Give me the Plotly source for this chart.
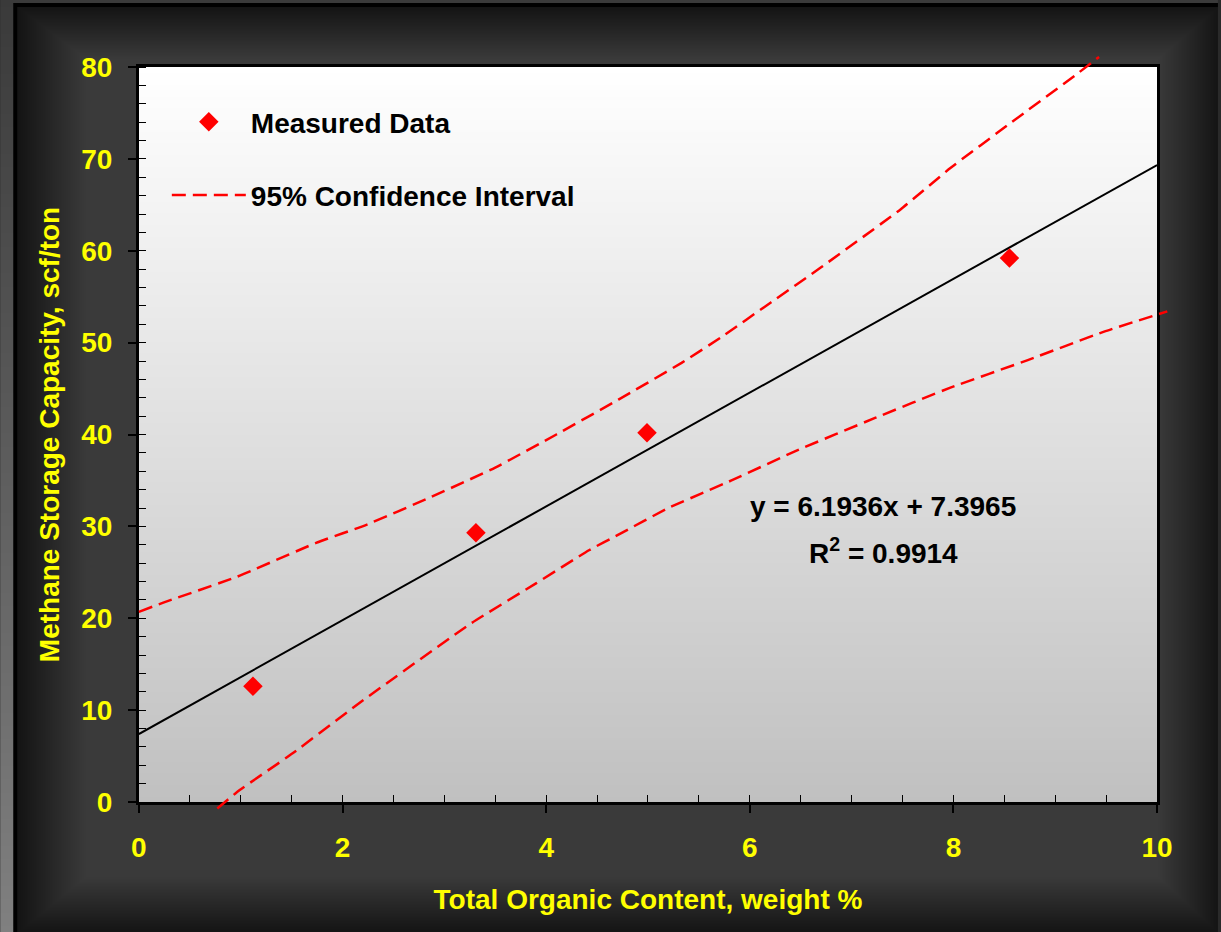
import base64, struct, zlib
import numpy as np
import plotly.graph_objects as go

# ---------------- data ----------------
toc = [1.12, 3.31, 4.99, 8.55]
capacity = [12.6, 29.3, 40.2, 59.2]

fit_x = [0, 10]
fit_y = [7.40, 69.33]

upper_x = [0.0, 0.24, 0.96, 1.74, 2.24, 2.85, 3.5, 4.1, 4.71, 5.33, 5.72, 6.21, 6.70, 7.48, 7.97, 8.56, 9.22, 9.43]
upper_y = [20.7, 21.7, 24.5, 28.2, 30.2, 33.1, 36.4, 40.0, 43.8, 47.8, 50.6, 54.4, 58.2, 64.5, 69.0, 73.9, 79.3, 81.1]

lower_x = [0.77, 0.99, 1.51, 2.23, 3.27, 3.9, 4.42, 4.71, 5.2, 5.82, 6.47, 7.23, 7.97, 8.73, 9.48, 10.1]
lower_y = [-0.7, 1.3, 5.3, 11.3, 19.5, 23.8, 27.4, 29.1, 32.0, 35.0, 38.3, 41.8, 45.1, 48.1, 51.2, 53.4]

x_range = [0, 10]
y_range = [0, 80]

equation_text = "y = 6.1936x + 7.3965"
r2_text = "R<sup>2</sup> = 0.9914"

x_title = "Total Organic Content, weight %"
y_title = "Methane Storage Capacity, scf/ton"

# ---------------- geometry ----------------
W, H = 1221, 932
L, R, T, B = 139, 1160, 67, 802          # main plot area in pixels
ML, MR, MT, MB = 100, 25, 30, 100        # outer margins (bigger area for unclipped CI lines)
AX0, AX1 = ML, W - MR
AY0, AY1 = MT, H - MB
AW, AH = AX1 - AX0, AY1 - AY0

pxx = (R - L) / (x_range[1] - x_range[0])
pxy = (B - T) / (y_range[1] - y_range[0])
x2_range = [x_range[0] + (AX0 - L) / pxx, x_range[0] + (AX1 - L) / pxx]
y2_range = [y_range[0] + (B - AY1) / pxy, y_range[0] + (B - AY0) / pxy]
x_dom = [(L - AX0) / AW, (R - AX0) / AW]
y_dom = [(AY1 - B) / AH, (AY1 - T) / AH]

# ---------------- background image (frame + plot gradient) ----------------
xs = np.arange(W)[None, :].astype(float)
ys = np.arange(H)[:, None].astype(float)

tL = np.clip((xs - 17) / (L - 17), 0, 1)
tR = np.clip((W - xs) / (W - R), 0, 1)
tT = np.clip((ys - 7) / (T - 7), 0, 1)
tB = np.clip((H - ys) / (H - B), 0, 1)
base = 20.0
fL = base + tL * (88 - base)
fR = base + tR * (58 - base)
fT = base + tT * (64 - base)
fB = base + tB * (108 - base)
img = np.minimum(np.minimum(fL, fR), np.minimum(fT, fB))
img = np.broadcast_to(img, (H, W)).copy()

left_strip = 58 + (ys[:, 0] / H) * (128 - 58)
img[:, :13] = left_strip[:, None]
img[:3, :] = 58
img[3:, 13:17] = 0
img[3:7, 13:] = 0

grad = 255 - (np.arange(T, B) - T) / (B - T) * (255 - 192)
img[T:B, L:R] = grad[:, None]


def png_gray(arr):
    h, w = arr.shape
    a = np.clip(np.round(arr), 0, 255).astype(np.int16)
    diff = a.copy()
    diff[:, 1:] = (a[:, 1:] - a[:, :-1]) % 256
    raw = np.hstack([np.ones((h, 1), np.uint8), diff.astype(np.uint8)]).tobytes()

    def chunk(t, d):
        return struct.pack('>I', len(d)) + t + d + struct.pack('>I', zlib.crc32(t + d) & 0xffffffff)

    ihdr = struct.pack('>IIBBBBB', w, h, 8, 0, 0, 0, 0)
    data = b'\x89PNG\r\n\x1a\n' + chunk(b'IHDR', ihdr) + chunk(b'IDAT', zlib.compress(raw, 9)) + chunk(b'IEND', b'')
    return 'data:image/png;base64,' + base64.b64encode(data).decode()


bg_src = png_gray(img)

# ---------------- figure ----------------
FONT = "Liberation Sans, Arial, sans-serif"
YELLOW = "#ffff00"
fs = 28

fig = go.Figure()

fig.add_trace(go.Scatter(
    x=fit_x, y=fit_y, mode="lines", line=dict(color="black", width=2),
    showlegend=False, hoverinfo="skip"))

fig.add_trace(go.Scatter(
    x=toc, y=capacity, mode="markers", name="Measured Data",
    marker=dict(symbol="diamond", size=15, color="#ff0000", line=dict(width=0)),
    legendgroup="data", legendrank=1))

ci_line = dict(color="#ff0000", width=2.5, dash="14px,7px", shape="spline", smoothing=0.4)
fig.add_trace(go.Scatter(
    x=upper_x, y=upper_y, mode="lines", name="95% Confidence Interval",
    line=ci_line, legendgroup="ci", legendrank=2, xaxis="x2", yaxis="y2"))
fig.add_trace(go.Scatter(
    x=lower_x, y=lower_y, mode="lines", name="95% Confidence Interval",
    line=ci_line, legendgroup="ci", showlegend=False, xaxis="x2", yaxis="y2"))

fig.add_annotation(x=7.31, y=32.2, xref="x", yref="y", text=equation_text, showarrow=False,
                   font=dict(family=FONT, size=fs, color="black", weight="bold"))
fig.add_annotation(x=7.31, y=27.3, xref="x", yref="y", text=r2_text, showarrow=False,
                   font=dict(family=FONT, size=fs, color="black", weight="bold"))

fig.add_layout_image(dict(
    source=bg_src, xref="paper", yref="paper",
    x=-AX0 / AW, y=1 + AY0 / AH,
    sizex=W / AW, sizey=H / AH,
    xanchor="left", yanchor="top", sizing="stretch", layer="below"))

tickfont = dict(family=FONT, size=fs, color=YELLOW, weight="bold")
titlefont = dict(family=FONT, size=fs, color=YELLOW, weight="bold")

fig.update_layout(
    width=W, height=H,
    margin=dict(l=ML, r=MR, t=MT, b=MB, pad=0),
    paper_bgcolor="#2a2a2a",
    plot_bgcolor="rgba(0,0,0,0)",
    font=dict(family=FONT, size=fs, color="black"),
    showlegend=True,
    legend=dict(
        x=(167 - AX0) / AW, y=(AY1 - 97) / AH, xanchor="left", yanchor="top",
        bgcolor="rgba(0,0,0,0)", borderwidth=0,
        font=dict(family=FONT, size=fs, color="black", weight="bold"),
        itemwidth=74, tracegroupgap=34, traceorder="grouped"),
    xaxis=dict(
        domain=x_dom, anchor="y",
        range=x_range, autorange=False, dtick=2, tick0=0,
        showgrid=False, zeroline=False,
        showline=True, linecolor="black", linewidth=3, mirror=True,
        ticks="outside", ticklen=8, tickwidth=2, tickcolor="black",
        minor=dict(dtick=0.5, ticks="inside", ticklen=7, tickwidth=1, tickcolor="black", showgrid=False),
        tickfont=tickfont, ticklabelstandoff=10,
        title=dict(text=x_title, standoff=28, font=titlefont)),
    yaxis=dict(
        domain=y_dom, anchor="x",
        range=y_range, autorange=False, dtick=10, tick0=0,
        showgrid=False, zeroline=False,
        showline=True, linecolor="black", linewidth=3, mirror=True,
        ticks="outside", ticklen=8, tickwidth=2, tickcolor="black",
        minor=dict(dtick=2, ticks="inside", ticklen=7, tickwidth=1, tickcolor="black", showgrid=False),
        tickfont=tickfont, ticklabelstandoff=10,
        title=dict(text=y_title, standoff=14, font=titlefont)),
    xaxis2=dict(domain=[0, 1], anchor="y2", range=x2_range, autorange=False, visible=False),
    yaxis2=dict(domain=[0, 1], anchor="x2", range=y2_range, autorange=False, visible=False),
)

fig.write_html("out.html")
